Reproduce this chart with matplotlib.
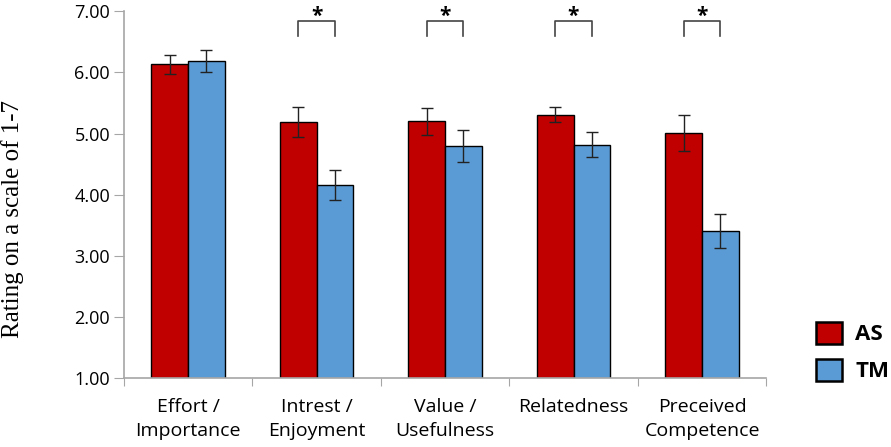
import numpy as np
import matplotlib
matplotlib.use("Agg")
import matplotlib.pyplot as plt

categories = ["Effort /\nImportance", "Intrest /\nEnjoyment", "Value /\nUsefulness",
              "Relatedness", "Preceived\nCompetence"]
as_mean = [6.13, 5.19, 5.20, 5.31, 5.01]
as_err = [0.15, 0.24, 0.22, 0.13, 0.30]
tm_mean = [6.18, 4.16, 4.80, 4.82, 3.41]
tm_err = [0.18, 0.24, 0.26, 0.20, 0.28]
significant = [False, True, True, True, True]

red = "#C00000"
blue = "#5B9BD5"
grey = "#A6A6A6"

fig = plt.figure(figsize=(8.91, 4.47), dpi=100)
ax = fig.add_axes([0.139, 0.154, 0.721, 0.821])

x = np.arange(len(categories))
w = 0.285
ekw = dict(elinewidth=1, capsize=4, capthick=1, ecolor="#222222")
ax.bar(x - w / 2, as_mean, w, color=red, edgecolor="black", linewidth=1,
       yerr=as_err, error_kw=ekw, label="AS", zorder=2)
ax.bar(x + w / 2, tm_mean, w, color=blue, edgecolor="black", linewidth=1,
       yerr=tm_err, error_kw=ekw, label="TM", zorder=2)

# significance brackets
for i, sig in enumerate(significant):
    if not sig:
        continue
    x0, x1 = i - w / 2, i + w / 2
    ax.plot([x0, x0, x1, x1], [6.59, 6.84, 6.84, 6.59], color="#444444", lw=1.2,
            clip_on=False)
    ax.text(i, 6.92, "*", ha="center", va="center", fontsize=15, fontweight="bold",
            family="Open Sans", clip_on=False)

ax.set_ylim(1, 7)
ax.set_xlim(-0.5, len(categories) - 0.5)
ax.set_yticks(np.arange(1, 8))
ax.set_yticklabels([f"{v:.2f}" for v in np.arange(1, 8)], family="Open Sans", fontsize=13)
ax.set_xticks(np.arange(-0.5, len(categories)), minor=False)
ax.set_xticklabels([])
ax.set_xticks(x, minor=True)
ax.set_xticklabels(categories, minor=True, family="Open Sans", fontsize=14, linespacing=1.45)
ax.tick_params(axis="x", which="minor", length=0, pad=14)
ax.tick_params(axis="x", which="major", length=6, color=grey, direction="out")
ax.tick_params(axis="y", length=7, color=grey, direction="out", pad=3)

for s in ["top", "right"]:
    ax.spines[s].set_visible(False)
for s in ["left", "bottom"]:
    ax.spines[s].set_color(grey)
    ax.spines[s].set_linewidth(1.2)

ax.set_ylabel("Rating on a scale of 1-7", family="Liberation Serif", fontsize=18)
ax.yaxis.set_label_coords(-0.155, 0.435)

leg = fig.legend(loc="lower left", bbox_to_anchor=(0.906, 0.125), frameon=False,
                 prop={"family": "Open Sans", "weight": "bold", "size": 16},
                 handlelength=1.17, handleheight=1.17, labelspacing=0.6, handletextpad=0.6,
                 borderaxespad=0)
for h in leg.legend_handles:
    h.set_linewidth(1.8)

fig.savefig("out.png", dpi=100)
